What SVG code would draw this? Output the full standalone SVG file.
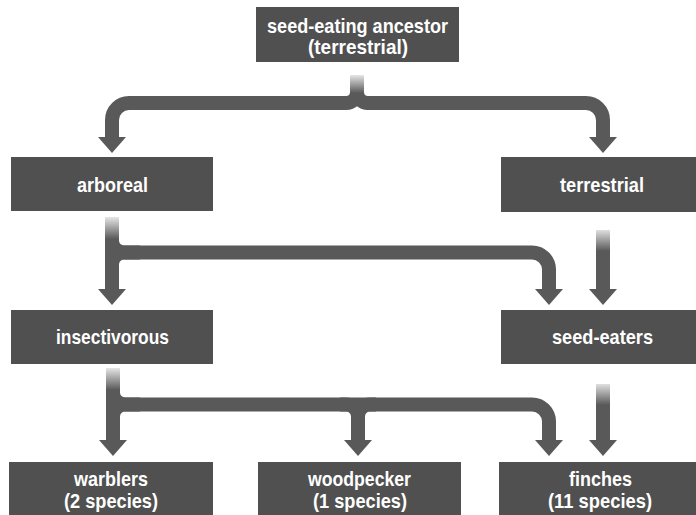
<svg xmlns="http://www.w3.org/2000/svg" width="696" height="515" viewBox="0 0 696 515">
<defs>
<linearGradient id="fadeGrad" x1="0" y1="0" x2="0" y2="1">
<stop offset="0" stop-color="#ffffff" stop-opacity="0.85"/>
<stop offset="1" stop-color="#ffffff" stop-opacity="0"/>
</linearGradient>
</defs>
<style>
.box{fill:#505050}
.lbl{font-family:"Liberation Sans",Arial,sans-serif;font-weight:bold;font-size:21px;fill:#ffffff;text-anchor:middle}
.line{fill:none;stroke:#595959;stroke-width:14}
.head{fill:#595959}
.fade{fill:url(#fadeGrad)}
</style>
<rect x="0" y="0" width="696" height="515" fill="#ffffff"/>
<g id="connectors">
<path class="line" d="M357,75 V92 A11 11 0 0 1 346 103 H129 A17 17 0 0 0 112 120 V138"/>
<path class="line" d="M357,75 V92 A11 11 0 0 0 368 103 H586 A17 17 0 0 1 603 120 V138"/>
<polygon class="head" points="98,137 126,137 112,153"/>
<polygon class="head" points="589,137 617,137 603,153"/>
<rect class="fade" x="350" y="75" width="14" height="18"/>

<path class="line" d="M112,217 V290"/>
<path class="line" d="M112,236 V240.5 A12 12 0 0 0 124 252.5 H532 A17 17 0 0 1 549 269.5 V290"/>
<path class="line" d="M112,270 V264.5 A12 12 0 0 1 124 252.5 H140"/>
<polygon class="head" points="98,289 126,289 112,305"/>
<polygon class="head" points="535,289 563,289 549,305"/>
<path class="line" d="M603,230 V290"/>
<polygon class="head" points="589,289 617,289 603,305"/>
<rect class="fade" x="105" y="217" width="14" height="22"/>
<rect class="fade" x="596" y="229" width="14" height="22"/>

<path class="line" d="M113,368 V441"/>
<path class="line" d="M113,385 V392.5 A12 12 0 0 0 125 404.5 H532 A17 17 0 0 1 549 421.5 V441"/>
<path class="line" d="M113,424 V416.5 A12 12 0 0 1 125 404.5 H140"/>
<path class="line" d="M340,404.5 H346 A12 12 0 0 1 358 416.5 V441"/>
<path class="line" d="M376,404.5 H370 A12 12 0 0 0 358 416.5 V441"/>
<polygon class="head" points="99,440 127,440 113,456"/>
<polygon class="head" points="344,440 372,440 358,456"/>
<polygon class="head" points="535,440 563,440 549,456"/>
<path class="line" d="M603,384 V441"/>
<polygon class="head" points="589,440 617,440 603,456"/>
<rect class="fade" x="106" y="368" width="14" height="22"/>
<rect class="fade" x="596" y="383" width="14" height="22"/>
</g>
<g id="ancestor">
<rect class="box" x="256" y="7" width="203" height="55"/>
<text class="lbl" x="357.5" y="33" textLength="181" lengthAdjust="spacingAndGlyphs">seed-eating ancestor</text>
<text class="lbl" x="358" y="54" textLength="100" lengthAdjust="spacingAndGlyphs">(terrestrial)</text>
</g>
<g id="arboreal">
<rect class="box" x="11" y="157" width="202" height="54"/>
<text class="lbl" x="112.5" y="192" textLength="71" lengthAdjust="spacingAndGlyphs">arboreal</text>
</g>
<g id="terrestrial">
<rect class="box" x="501" y="157" width="200" height="55"/>
<text class="lbl" x="602" y="192" textLength="84" lengthAdjust="spacingAndGlyphs">terrestrial</text>
</g>
<g id="insectivorous">
<rect class="box" x="11" y="310" width="202" height="54"/>
<text class="lbl" x="112.5" y="344" textLength="113" lengthAdjust="spacingAndGlyphs">insectivorous</text>
</g>
<g id="seed-eaters">
<rect class="box" x="501" y="310" width="200" height="54"/>
<text class="lbl" x="602.5" y="344" textLength="101" lengthAdjust="spacingAndGlyphs">seed-eaters</text>
</g>
<g id="warblers">
<rect class="box" x="9" y="462" width="204" height="60"/>
<text class="lbl" x="111" y="486" textLength="74" lengthAdjust="spacingAndGlyphs">warblers</text>
<text class="lbl" x="111" y="508" textLength="94" lengthAdjust="spacingAndGlyphs">(2 species)</text>
</g>
<g id="woodpecker">
<rect class="box" x="258" y="462" width="203" height="60"/>
<text class="lbl" x="359.5" y="486" textLength="103" lengthAdjust="spacingAndGlyphs">woodpecker</text>
<text class="lbl" x="360" y="508" textLength="94" lengthAdjust="spacingAndGlyphs">(1 species)</text>
</g>
<g id="finches">
<rect class="box" x="499" y="462" width="202" height="60"/>
<text class="lbl" x="600.5" y="486" textLength="63" lengthAdjust="spacingAndGlyphs">finches</text>
<text class="lbl" x="600" y="508" textLength="104" lengthAdjust="spacingAndGlyphs">(11 species)</text>
</g>
</svg>
